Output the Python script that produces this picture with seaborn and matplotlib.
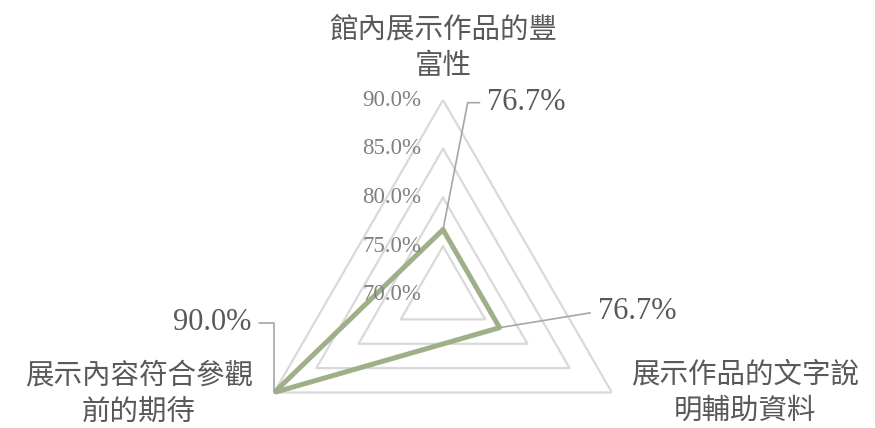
import numpy as np
import pandas as pd
import seaborn as sns
from matplotlib import pyplot as plt

# data
categories = ['館內展示作品的豐\n富性', '展示作品的文字說\n明輔助資料', '展示內容符合參觀\n前的期待']
values = [76.7, 76.7, 90.0]
value_labels = ['76.7%', '76.7%', '90.0%']
ring_levels = [70, 75, 80, 85, 90]
ring_labels = ['70.0%', '75.0%', '80.0%', '85.0%', '90.0%']

sns.set_theme(style='white')
plt.rcParams['font.family'] = ['Noto Sans CJK TC', 'DejaVu Sans']

TEXT = '#595959'
GREEN = '#9DB088'
GRID = '#D9D9D9'

theta = np.linspace(0, 2 * np.pi, len(categories), endpoint=False)
theta_closed = np.append(theta, theta[0])

fig = plt.figure(figsize=(8.75, 4.28), dpi=100)
ax = fig.add_axes([248 / 875, -62 / 428, 390 / 875, 390 / 428], projection='polar')
ax.set_theta_offset(np.pi / 2)
ax.set_theta_direction(-1)

# triangular grid rings
for lvl in ring_levels[1:]:
    ax.plot(theta_closed, [lvl] * len(theta_closed), color=GRID, lw=1.6, zorder=1)

# data polygon
df = pd.DataFrame({'theta': theta_closed, 'value': values + values[:1]})
sns.lineplot(data=df, x='theta', y='value', sort=False, estimator=None,
             color=GREEN, lw=3.6, ax=ax, zorder=3)

ax.set_ylim(70, 90)
ax.grid(False)
ax.spines['polar'].set_visible(False)
ax.set_xticks([])
ax.set_yticks([])
ax.set_xlabel('')
ax.set_ylabel('')
ax.patch.set_alpha(0)

# ring labels along the top axis
for lvl, lab in zip(ring_levels, ring_labels):
    ax.annotate(lab, xy=(0, lvl), xytext=(-22, 0), textcoords='offset pixels',
                ha='right', va='center', fontsize=16.5, color='#808080',
                family=['Liberation Serif'], annotation_clip=False)

# category labels
cat_offsets = [(0, 52), (133, 0), (-135, -1)]
for t, cat, off in zip(theta, categories, cat_offsets):
    ax.annotate(cat, xy=(t, 90), xytext=off, textcoords='offset pixels',
                ha='center', va='center', fontsize=20.5, color=TEXT,
                linespacing=1.3, annotation_clip=False)

# value labels with leader lines
lab_offsets = [(44, 127), (98, 16), (-23, 70)]
lab_ha = ['left', 'left', 'right']
conn = ['angle,angleA=0,angleB=79,rad=0', 'arc3', 'angle,angleA=0,angleB=90,rad=0']
relpos = [(0, 0.5), (0, 0.5), (1, 0.5)]
for t, v, lab, off, ha, cs, rp in zip(theta, values, value_labels, lab_offsets, lab_ha, conn, relpos):
    ax.annotate(lab, xy=(t, v), xytext=off, textcoords='offset pixels',
                ha=ha, va='center', fontsize=22, color=TEXT,
                family=['Liberation Serif'], annotation_clip=False,
                arrowprops=dict(arrowstyle='-', color='#A6A6A6', lw=1.2,
                                connectionstyle=cs, relpos=rp,
                                shrinkA=3, shrinkB=0))

fig.savefig('out.png', dpi=100)
